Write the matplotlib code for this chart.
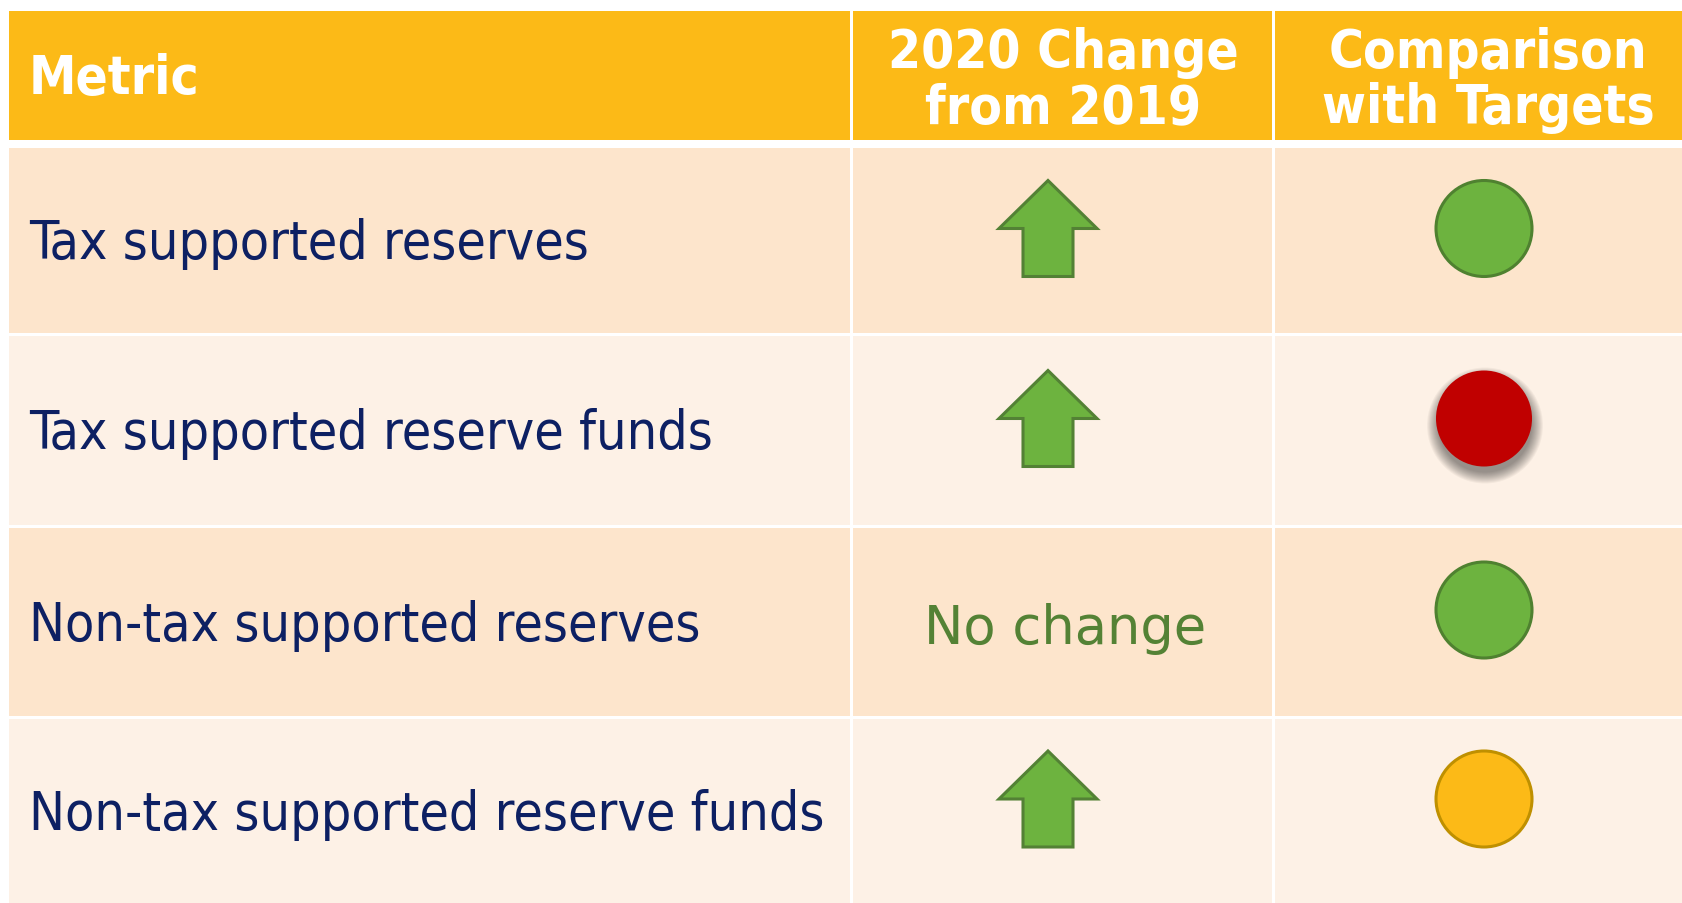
import matplotlib
matplotlib.use("Agg")
import matplotlib.pyplot as plt
from matplotlib.patches import Rectangle, Polygon, Circle
from matplotlib import font_manager

# table content
headers = ["Metric", "2020 Change\nfrom 2019", "Comparison\nwith Targets"]
metrics = [
    "Tax supported reserves",
    "Tax supported reserve funds",
    "Non-tax supported reserves",
    "Non-tax supported reserve funds",
]
changes = ["up", "up", "none", "up"]
status = ["green", "red", "green", "amber"]

# layout in pixels (figure is 1682 x 904)
W, H = 1682, 904
col_edges = [9, 853, 1275, W]
gap = 3
header_y = (12, 141)
row_edges = [149, 337, 529, 720, 904]

HEADER_BG = "#FCBA17"
ROW_BG = ["#FDE5CC", "#FDF1E6"]
NAVY = "#0D2063"
GREEN_TXT = "#548235"
fills = {"green": ("#6DB33F", "#4F8130"), "red": ("#C00000", "none"),
         "amber": ("#FCBA17", "#BF9000")}

# use the condensed face when it exists
cond = "Condensed" in font_manager.findfont(
    font_manager.FontProperties(family="DejaVu Sans", stretch="condensed"))
stretch = "condensed" if cond else "normal"
body_size = 38.5 if cond else 34.5
head_size = 38.2 if cond else 34.5

fig = plt.figure(figsize=(W / 100, H / 100), dpi=100)
ax = fig.add_axes([0, 0, 1, 1])
ax.set_xlim(0, W)
ax.set_ylim(H, 0)
ax.axis("off")

# header cells
for c in range(3):
    x0, x1 = col_edges[c], col_edges[c + 1] - (gap if c < 2 else 0)
    ax.add_patch(Rectangle((x0, header_y[0]), x1 - x0, header_y[1] - header_y[0],
                           color=HEADER_BG, lw=0))
    yc = sum(header_y) / 2
    if c == 0:
        ax.text(x0 + 20, yc + 3, headers[c], color="white", fontsize=head_size,
                fontweight="bold", fontstretch=stretch, va="center", ha="left")
    else:
        xt = (x0 + x1) / 2 + (10 if c == 2 else 1)
        ax.text(xt, yc + 4, headers[c], color="white",
                fontsize=head_size, fontweight="bold", fontstretch=stretch,
                va="center", ha="center", linespacing=1.08)

for r, name in enumerate(metrics):
    y0 = row_edges[r]
    y1 = row_edges[r + 1] - (gap if r < 3 else 0)
    yc = (y0 + y1) / 2
    for c in range(3):
        x0, x1 = col_edges[c], col_edges[c + 1] - (gap if c < 2 else 0)
        ax.add_patch(Rectangle((x0, y0), x1 - x0, y1 - y0,
                               color=ROW_BG[r % 2], lw=0))

    ax.text(col_edges[0] + 20, yc + 3, name, color=NAVY, fontsize=body_size,
            fontstretch=stretch, va="center", ha="left")

    # change column
    cx = 1048
    ay = yc - 12
    if changes[r] == "up":
        pts = [(cx, ay - 48), (cx + 49, ay), (cx + 25, ay), (cx + 25, ay + 48),
               (cx - 25, ay + 48), (cx - 25, ay), (cx - 49, ay)]
        ax.add_patch(Polygon(pts, closed=True, fc="#6DB33F", ec="#538135",
                             lw=2.2, joinstyle="miter"))
    else:
        ax.text(1065, yc + 6, "No change", color=GREEN_TXT, fontsize=38,
                va="center", ha="center")

    # target column
    px, py = 1484, yc - 12
    fc, ec = fills[status[r]]
    if status[r] == "red":
        # soft drop shadow
        for k in range(12):
            ax.add_patch(Circle((px + 1, py + 7), 48 + 10 - k, color="black",
                                alpha=0.04, lw=0))
    ax.add_patch(Circle((px, py), 48, fc=fc, ec=ec, lw=2.2 if ec != "none" else 0))

fig.savefig("out.png", dpi=100)
